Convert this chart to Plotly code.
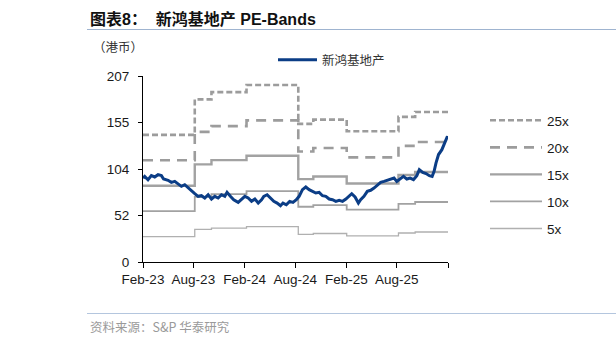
import plotly.graph_objects as go

# ---------------- data ----------------
price_dates = [
    "2023-02-01", "2023-02-07", "2023-02-19", "2023-03-03", "2023-03-15", "2023-03-27",
    "2023-04-08", "2023-04-16", "2023-05-02", "2023-05-14", "2023-05-26", "2023-06-07",
    "2023-06-19", "2023-07-01", "2023-07-13", "2023-07-25", "2023-08-06", "2023-08-18",
    "2023-08-30", "2023-09-11", "2023-09-23", "2023-10-05", "2023-10-17", "2023-10-29",
    "2023-11-10", "2023-11-22", "2023-11-30", "2023-12-12", "2023-12-24", "2024-01-09",
    "2024-01-21", "2024-02-02", "2024-02-14", "2024-02-26", "2024-03-09", "2024-03-21",
    "2024-04-02", "2024-04-10", "2024-04-22", "2024-05-04", "2024-05-16", "2024-05-28",
    "2024-06-09", "2024-06-18", "2024-06-30", "2024-07-12", "2024-07-24", "2024-08-05",
    "2024-08-15", "2024-08-27", "2024-09-08", "2024-09-20", "2024-10-02", "2024-10-14",
    "2024-10-26", "2024-11-07", "2024-11-19", "2024-12-01", "2024-12-13", "2024-12-25",
    "2025-01-06", "2025-01-18", "2025-01-30", "2025-02-11", "2025-02-20", "2025-03-04",
    "2025-03-16", "2025-03-24", "2025-04-05", "2025-04-17", "2025-04-29", "2025-05-11",
    "2025-05-23", "2025-06-04", "2025-06-16", "2025-06-28", "2025-07-10", "2025-07-22",
    "2025-08-01", "2025-08-13", "2025-08-25", "2025-09-06", "2025-09-18", "2025-09-30",
    "2025-10-12", "2025-10-21", "2025-11-02", "2025-11-14", "2025-11-26", "2025-12-06",
    "2025-12-13", "2025-12-20", "2025-12-29", "2026-01-10", "2026-01-14", "2026-01-22",
    "2026-01-30", "2026-02-01",
]
price_values = [
    93.4, 95.3, 91.6, 96.1, 94.6, 97.2,
    96.1, 92.3, 90.9, 88.6, 89.7, 87.1,
    84.2, 86.0, 82.3, 78.6, 76.0, 73.1,
    73.8, 71.2, 74.9, 70.1, 73.1, 71.2,
    74.9, 73.1, 77.5, 73.1, 69.3, 66.4,
    69.3, 73.1, 71.2, 67.5, 70.1, 65.6,
    69.3, 73.1, 74.9, 71.2, 67.5, 65.6,
    62.6, 65.6, 63.7, 67.5, 66.4, 69.3,
    73.1, 80.5, 83.5, 80.5, 78.6, 76.8,
    77.5, 73.8, 73.1, 70.1, 69.3, 67.5,
    68.6, 67.5, 70.1, 73.1, 76.0, 72.3,
    65.6, 69.3, 73.1, 78.6, 79.8, 82.3,
    86.0, 88.6, 89.7, 90.9, 92.3, 93.4,
    89.7, 92.3, 95.3, 92.3, 93.4, 91.6,
    96.1, 102.8, 99.8, 98.4, 96.1, 95.3,
    100.9, 110.3, 119.6, 125.0, 128.6, 134.0,
    139.8, 136.5,
]

# EPS steps behind the PE bands (HKD)
eps_dates = ["2023-02-01", "2023-08-06", "2023-10-05", "2024-02-08", "2024-08-12",
             "2024-10-05", "2025-02-02", "2025-08-07", "2025-10-06", "2026-02-01"]
eps_values = [5.66, 7.24, 7.56, 7.88, 6.15, 6.34, 5.82, 6.46, 6.68, 6.68]

band_multiples = [25, 20, 15, 10, 5]
band_labels = ["25x", "20x", "15x", "10x", "5x"]

y_tickvals = [0, 51.75, 103.5, 155.25, 207]
y_ticktext = ["0", "52", "104", "155", "207"]
x_tickvals = ["2023-02-01", "2023-08-01", "2024-02-01", "2024-08-01",
              "2025-02-01", "2025-08-01", "2026-02-01"]
x_ticktext = ["Feb-23", "Aug-23", "Feb-24", "Aug-24", "Feb-25", "Aug-25", ""]

# ---------------- layout geometry (px) ----------------
W, H = 616, 344
L, R, T, B = 143, 448, 76, 262
pw, ph = R - L, B - T


def px(x):
    return (x - L) / pw


def py(y):
    return (B - y) / ph


band_styles = [
    dict(color="#9c9c9c", width=2.6, dash="6px,3px"),
    dict(color="#9c9c9c", width=2.6, dash="10px,7px"),
    dict(color="#a2a2a2", width=2.4, dash="solid"),
    dict(color="#a2a2a2", width=1.8, dash="solid"),
    dict(color="#b0b0b0", width=1.3, dash="solid"),
]

fig = go.Figure()

for mult, lab, st in zip(band_multiples, band_labels, band_styles):
    fig.add_trace(go.Scatter(
        x=eps_dates, y=[e * mult for e in eps_values], name=lab, mode="lines",
        line=dict(color=st["color"], width=st["width"], dash=st["dash"], shape="hv"),
        legend="legend2", legendgroup=lab, hoverinfo="skip",
    ))

fig.add_trace(go.Scatter(
    x=price_dates, y=price_values, name="新鸿基地产", mode="lines",
    line=dict(color="#0b3d86", width=3),
    legend="legend",
))

font_lat = "Liberation Sans, Arial, Noto Sans CJK SC, sans-serif"
font_cjk = "Noto Sans CJK SC, Liberation Sans, sans-serif"

fig.update_layout(
    width=W, height=H,
    margin=dict(l=L, r=W - R, t=T, b=H - B),
    paper_bgcolor="white", plot_bgcolor="white",
    font=dict(family=font_lat, size=13.5, color="#1a1a1a"),
    showlegend=True,
    legend=dict(
        x=px(273), y=py(60), xanchor="left", yanchor="middle",
        orientation="h", itemwidth=39, bgcolor="rgba(0,0,0,0)",
        font=dict(family=font_cjk, size=12.5, color="#333333"),
    ),
    legend2=dict(
        x=px(485), y=py(105), xanchor="left", yanchor="top",
        orientation="v", itemwidth=52, tracegroupgap=6.5, bgcolor="rgba(0,0,0,0)",
        font=dict(family=font_lat, size=13.5, color="#1a1a1a"),
    ),
    xaxis=dict(
        type="date", range=["2023-02-01", "2026-02-01"],
        tickvals=x_tickvals, ticktext=x_ticktext,
        showgrid=False, zeroline=False,
        showline=True, linecolor="#000000", linewidth=1,
        ticks="outside", ticklen=5, tickcolor="#000000",
        tickfont=dict(family=font_lat, size=13.5, color="#1a1a1a"),
    ),
    yaxis=dict(
        range=[0, 207], tickvals=y_tickvals, ticktext=y_ticktext,
        showgrid=False, zeroline=False,
        showline=True, linecolor="#000000", linewidth=1,
        ticks="outside", ticklen=4, tickcolor="#000000",
        ticklabelstandoff=6,
        tickfont=dict(family=font_lat, size=13.5, color="#1a1a1a"),
    ),
)

# Title, unit, source
fig.add_annotation(
    x=px(88), y=py(18.5), xref="paper", yref="paper", xanchor="left", yanchor="middle",
    text="<b>图表8：\u00a0\u00a0新鸿基地产 PE-Bands</b>", showarrow=False,
    font=dict(family=font_lat, size=16, color="#111111"),
)
fig.add_annotation(
    x=px(91), y=py(47), xref="paper", yref="paper", xanchor="left", yanchor="middle",
    text="（港币）", showarrow=False,
    font=dict(family=font_cjk, size=12.5, color="#333333"),
)
fig.add_annotation(
    x=px(88), y=py(326.5), xref="paper", yref="paper", xanchor="left", yanchor="middle",
    text="资料来源：S&amp;P 华泰研究", showarrow=False,
    font=dict(family=font_cjk, size=12.5, color="#9a9a9a"),
)

# rules under title and above source
fig.add_shape(type="line", xref="paper", yref="paper",
              x0=px(87), x1=px(616), y0=py(29.5), y1=py(29.5),
              line=dict(color="#9fb4d0", width=1.2))
fig.add_shape(type="line", xref="paper", yref="paper",
              x0=px(87), x1=px(616), y0=py(313.5), y1=py(313.5),
              line=dict(color="#b4c6de", width=1.2))

fig.write_html("out.html")
